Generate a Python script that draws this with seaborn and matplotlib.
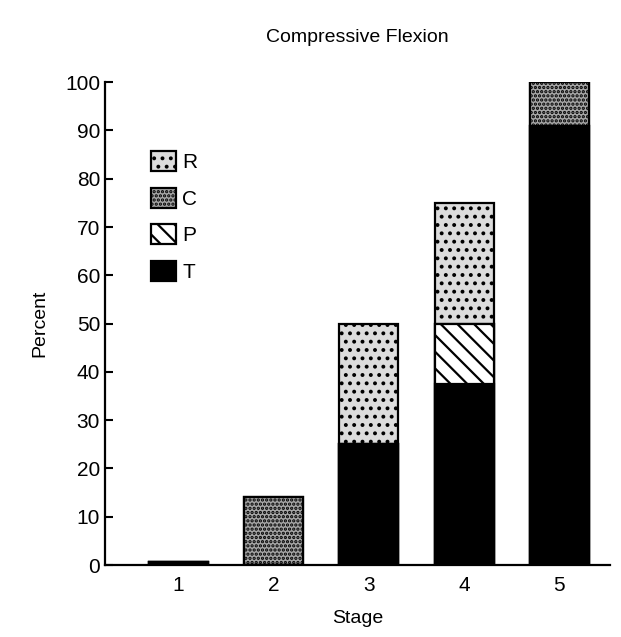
import matplotlib
matplotlib.use("Agg")
import matplotlib.pyplot as plt
import numpy as np
import pandas as pd
import seaborn as sns
from matplotlib.patches import Patch

# data (percent per stage)
stages = ["1", "2", "3", "4", "5"]
t_vals = [0.6, 0.0, 25.0, 37.5, 91.0]
p_vals = [0.0, 0.0, 0.0, 12.5, 0.0]
c_vals = [0.0, 14.0, 0.0, 0.0, 9.0]
r_vals = [0.0, 0.0, 25.0, 25.0, 0.0]

sns.set_style("ticks")
plt.rcParams["font.family"] = ["Liberation Sans", "DejaVu Sans"]
plt.rcParams["hatch.linewidth"] = 1.6
plt.rcParams["text.color"] = "black"
plt.rcParams["axes.labelcolor"] = "black"
plt.rcParams["xtick.color"] = "black"
plt.rcParams["ytick.color"] = "black"

fig = plt.figure(figsize=(6.21, 6.37), dpi=100)
ax = fig.add_axes([0.169, 0.113, 0.813, 0.758])

df = pd.DataFrame({"Stage": stages, "T": t_vals, "P": p_vals, "C": c_vals, "R": r_vals})
df["TP"] = df["T"] + df["P"]
df["TPC"] = df["TP"] + df["C"]
df["TPCR"] = df["TPC"] + df["R"]

r_face, r_hatch = "#dcdcdc", ".."
c_face, c_hatch = "#a6a6a6", "...."

# draw cumulative totals from tallest to shortest so each layer covers the next
layers = [
    ("TPCR", r_hatch, r_face),
    ("TPC", c_hatch, c_face),
    ("TP", "\\\\", "white"),
    ("T", None, "black"),
]
for col, hatch, face in layers:
    sns.barplot(data=df, x="Stage", y=col, color=face, width=0.62,
                edgecolor="black", linewidth=1.6, hatch=hatch,
                saturation=1, ax=ax)

ax.set_ylim(0, 100)
ax.set_xlim(-0.77, 4.53)
ax.set_yticks(np.arange(0, 101, 10))
ax.tick_params(axis="y", direction="in", length=6, width=1.5, labelsize=15)
ax.tick_params(axis="x", length=0, labelsize=15, pad=8)
sns.despine(ax=ax)
for s in ["left", "bottom"]:
    ax.spines[s].set_linewidth(1.6)
    ax.spines[s].set_color("black")

ax.set_xlabel("Stage", fontsize=14, labelpad=11)
ax.set_ylabel("Percent", fontsize=14, labelpad=12)
ax.set_title("Compressive Flexion", fontsize=14, pad=29)

handles = [
    Patch(facecolor=r_face, edgecolor="black", hatch=r_hatch, linewidth=1.6, label="R"),
    Patch(facecolor=c_face, edgecolor="black", hatch=c_hatch, linewidth=1.6, label="C"),
    Patch(facecolor="white", edgecolor="black", hatch="\\\\", linewidth=1.6, label="P"),
    Patch(facecolor="black", edgecolor="black", linewidth=1.6, label="T"),
]
ax.legend(handles=handles, loc="upper left", bbox_to_anchor=(0.075, 0.875),
          frameon=False, fontsize=15, handlelength=1.2, handleheight=1.1,
          handletextpad=0.3, labelspacing=0.75, borderaxespad=0)

fig.savefig("out.png", dpi=100)
